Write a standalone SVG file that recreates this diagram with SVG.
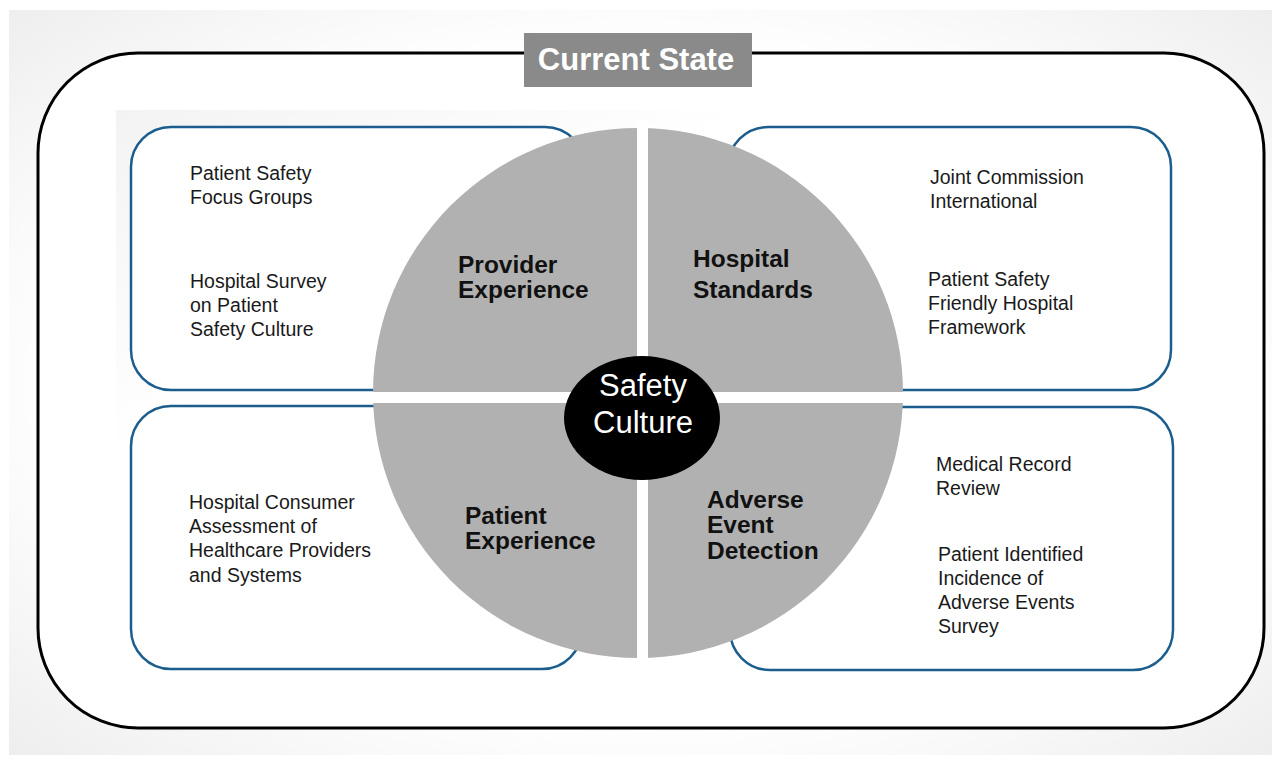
<svg xmlns="http://www.w3.org/2000/svg" width="1281" height="763" viewBox="0 0 1281 763">
  <defs>
    <radialGradient id="pageShade" cx="50%" cy="50%" r="75%">
      <stop offset="0.6" stop-color="#ffffff"/>
      <stop offset="1" stop-color="#ebebeb"/>
    </radialGradient>
    <linearGradient id="panelShade" x1="0" y1="0" x2="1" y2="1">
      <stop offset="0" stop-color="#f3f3f3"/>
      <stop offset="0.3" stop-color="#ffffff"/>
    </linearGradient>
    <style>
      .frame { fill: #ffffff; stroke: #000000; stroke-width: 3; }
      .box { fill: #ffffff; stroke: #1b5e8e; stroke-width: 2.5; }
      .quad { fill: #b1b1b1; }
      .gap { fill: #ffffff; }
      .item { font-family: "Liberation Sans", Arial, sans-serif; font-size: 19.5px; fill: #1a1a1a; }
      .label { font-family: "Liberation Sans", Arial, sans-serif; font-size: 24.5px; font-weight: bold; fill: #111111; }
      .hub { font-family: "Liberation Sans", Arial, sans-serif; font-size: 31px; fill: #ffffff; text-anchor: middle; }
      .title { font-family: "Liberation Sans", Arial, sans-serif; font-size: 31px; font-weight: bold; fill: #ffffff; text-anchor: middle; }
    </style>
  </defs>

  <!-- page background -->
  <rect x="0" y="0" width="1281" height="763" fill="#ffffff"/>
  <rect x="9" y="10" width="1263" height="745" fill="url(#pageShade)"/>

  <!-- outer frame -->
  <rect class="frame" x="38" y="53" width="1226" height="675" rx="100" ry="100"/>

  <!-- inner panel -->
  <rect x="116" y="110" width="1067" height="580" fill="url(#panelShade)"/>

  <!-- source boxes -->
  <g id="box-provider">
    <rect class="box" x="131" y="127" width="454" height="263" rx="40" ry="40"/>
    <text class="item" x="190" y="180">Patient Safety</text>
    <text class="item" x="190" y="204">Focus Groups</text>
    <text class="item" x="190" y="288">Hospital Survey</text>
    <text class="item" x="190" y="312">on Patient</text>
    <text class="item" x="190" y="336">Safety Culture</text>
  </g>
  <g id="box-standards">
    <rect class="box" x="728" y="127" width="443" height="263" rx="40" ry="40"/>
    <text class="item" x="930" y="184">Joint Commission</text>
    <text class="item" x="930" y="208">International</text>
    <text class="item" x="928" y="286">Patient Safety</text>
    <text class="item" x="928" y="310">Friendly Hospital</text>
    <text class="item" x="928" y="334">Framework</text>
  </g>
  <g id="box-patient">
    <rect class="box" x="131" y="406" width="451" height="263" rx="40" ry="40"/>
    <text class="item" x="189" y="509">Hospital Consumer</text>
    <text class="item" x="189" y="533">Assessment of</text>
    <text class="item" x="189" y="557">Healthcare Providers</text>
    <text class="item" x="189" y="582">and Systems</text>
  </g>
  <g id="box-adverse">
    <rect class="box" x="730" y="407" width="443" height="263" rx="40" ry="40"/>
    <text class="item" x="936" y="471">Medical Record</text>
    <text class="item" x="936" y="495">Review</text>
    <text class="item" x="938" y="561">Patient Identified</text>
    <text class="item" x="938" y="585">Incidence of</text>
    <text class="item" x="938" y="609">Adverse Events</text>
    <text class="item" x="938" y="633">Survey</text>
  </g>

  <!-- central wheel: one disc split into quadrants by white bands -->
  <g id="wheel">
    <circle class="quad" cx="638" cy="393" r="265"/>
    <rect class="gap" x="637" y="120" width="11" height="545"/>
    <rect class="gap" x="360" y="392" width="556" height="11"/>
  </g>

  <g id="quad-provider">
    <text class="label" x="458" y="273">Provider</text>
    <text class="label" x="458" y="298">Experience</text>
  </g>
  <g id="quad-standards">
    <text class="label" x="693" y="267">Hospital</text>
    <text class="label" x="693" y="298">Standards</text>
  </g>
  <g id="quad-patient">
    <text class="label" x="465" y="524">Patient</text>
    <text class="label" x="465" y="549">Experience</text>
  </g>
  <g id="quad-adverse">
    <text class="label" x="707" y="508">Adverse</text>
    <text class="label" x="707" y="533">Event</text>
    <text class="label" x="707" y="559">Detection</text>
  </g>

  <!-- hub -->
  <g id="hub">
    <ellipse cx="642" cy="418" rx="78" ry="62" fill="#000000"/>
    <text class="hub" x="643" y="396">Safety</text>
    <text class="hub" x="643" y="433">Culture</text>
  </g>

  <!-- title tab -->
  <g id="title">
    <rect x="524" y="33" width="228" height="54" fill="#8a8a8a"/>
    <text class="title" x="636" y="70">Current State</text>
  </g>

  <!-- no connectors in this figure -->
  <g id="connectors"/>
</svg>
